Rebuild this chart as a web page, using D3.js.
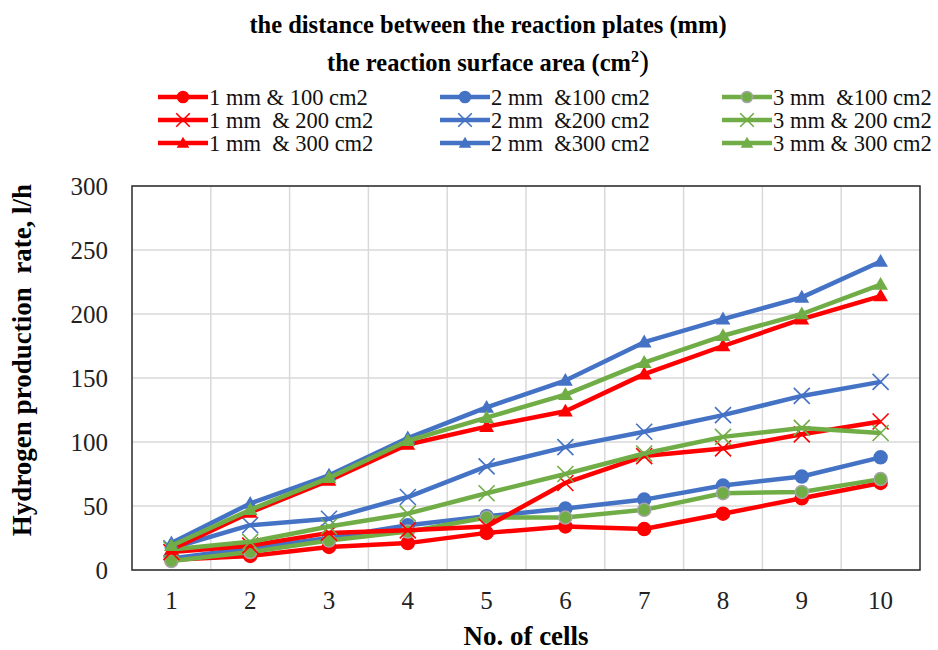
<!DOCTYPE html>
<html>
<head>
<meta charset="utf-8">
<script src="https://cdn.jsdelivr.net/npm/d3@7"></script>
<style>
  body { margin: 0; background: #fff; }
  svg text { font-family: "Liberation Serif", "Times New Roman", "DejaVu Serif", serif !important; white-space: pre; }
</style>
</head>
<body>
<svg id="chart"></svg>
<script>
// data
var cells = [1, 2, 3, 4, 5, 6, 7, 8, 9, 10];
var yTicks = [0, 50, 100, 150, 200, 250, 300];

var mm1_100 = [8, 11, 18, 21, 29, 34, 32, 44, 56, 68];
var mm2_100 = [9, 17, 25, 35, 42, 48, 55, 66, 73, 88];
var mm3_100 = [7, 14, 23, 30, 41, 41, 47, 60, 61, 71];
var mm1_200 = [14, 19, 29, 31, 34, 68, 89, 95, 106, 116];
var mm2_200 = [17, 35, 40, 57, 81, 96, 108, 121, 136, 147];
var mm3_200 = [16, 22, 34, 44, 60, 75, 91, 104, 111, 107];
var mm1_300 = [16, 45, 70, 98, 112, 124, 153, 175, 196, 214];
var mm2_300 = [21, 52, 74, 103, 127, 148, 178, 196, 213, 241];
var mm3_300 = [19, 47, 72, 101, 119, 137, 162, 183, 200, 223];

var red = "#ff0000", blue = "#4472c4", green = "#70ad47";
var serif = "Liberation Serif, Times New Roman, serif";

// excel draws series in legend (row-major) order
var series = [
  {name: "1 mm & 100 cm2",   values: mm1_100, color: red,   marker: "circle"},
  {name: "2 mm  &100 cm2",   values: mm2_100, color: blue,  marker: "circle"},
  {name: "3 mm  &100 cm2",   values: mm3_100, color: green, marker: "circle", outline: "#a5a5a5"},
  {name: "1 mm  & 200 cm2",  values: mm1_200, color: red,   marker: "x"},
  {name: "2 mm  &200 cm2",   values: mm2_200, color: blue,  marker: "x"},
  {name: "3 mm & 200 cm2",   values: mm3_200, color: green, marker: "x"},
  {name: "1 mm  & 300 cm2",  values: mm1_300, color: red,   marker: "triangle"},
  {name: "2 mm  &300 cm2",   values: mm2_300, color: blue,  marker: "triangle"},
  {name: "3 mm & 300 cm2",   values: mm3_300, color: green, marker: "triangle"}
];

var W = 938, H = 650;
var margin = {top: 186, right: 18, bottom: 80, left: 132},
    width = W - margin.left - margin.right,
    height = H - margin.top - margin.bottom;

var svg = d3.select("#chart").attr("width", W).attr("height", H)
  .attr("font-family", serif);

var xscale = d3.scaleBand().domain(cells).range([0, width]);
var yscale = d3.scaleLinear().domain([0, 300]).range([height, 0]);

var g = svg.append("g")
  .attr("transform", "translate(" + margin.left + "," + margin.top + ")");

// gridlines
g.selectAll(".hgrid").data(yTicks).enter().append("line")
  .attr("x1", 0).attr("x2", width)
  .attr("y1", function(d) { return yscale(d); })
  .attr("y2", function(d) { return yscale(d); })
  .attr("stroke", "#d9d9d9").attr("stroke-width", 1.5);

g.selectAll(".vgrid").data(cells.slice(1)).enter().append("line")
  .attr("x1", function(d) { return xscale(d); })
  .attr("x2", function(d) { return xscale(d); })
  .attr("y1", 0).attr("y2", height)
  .attr("stroke", "#d9d9d9").attr("stroke-width", 1.5);

// axes (labels only, frame drawn separately)
var xaxis = d3.axisBottom(xscale).tickSize(0).tickPadding(21);
var yaxis = d3.axisLeft(yscale).tickValues(yTicks).tickSize(0).tickPadding(24);

var gx = g.append("g").attr("transform", "translate(0," + height + ")").call(xaxis);
var gy = g.append("g").call(yaxis);
[gx, gy].forEach(function(a) {
  a.attr("font-family", serif).attr("font-size", 25);
  a.select(".domain").remove();
  a.selectAll("text")
    .attr("font-family", serif)
    .style("font-size", "25px")
    .attr("fill", "#222");
});

g.append("rect")
  .attr("width", width).attr("height", height)
  .attr("fill", "none").attr("stroke", "#2b2b2b").attr("stroke-width", 1.5);

var cx = function(i) { return xscale(cells[i]) + xscale.bandwidth() / 2; };

var line = d3.line()
  .x(function(d, i) { return cx(i); })
  .y(function(d) { return yscale(d); });

function drawMarker(sel, s, x, y, scale) {
  scale = scale || 1;
  if (s.marker === "circle") {
    sel.append("circle").attr("cx", x).attr("cy", y).attr("r", 6.5 * scale)
      .attr("fill", s.color)
      .attr("stroke", s.outline || s.color).attr("stroke-width", 1.5);
  } else if (s.marker === "triangle") {
    sel.append("path")
      .attr("d", d3.symbol().type(d3.symbolTriangle).size(95 * scale * scale)())
      .attr("transform", "translate(" + x + "," + (y + 1) + ")")
      .attr("fill", s.color);
  } else {
    var r = 8 * scale;
    sel.append("path")
      .attr("d", "M" + (x - r) + "," + (y - r) + "L" + (x + r) + "," + (y + r) +
                 "M" + (x - r) + "," + (y + r) + "L" + (x + r) + "," + (y - r))
      .attr("stroke", s.color).attr("stroke-width", 1.6).attr("fill", "none");
  }
}

series.forEach(function(s) {
  var sg = g.append("g");
  sg.append("path").datum(s.values)
    .attr("d", line)
    .attr("fill", "none")
    .attr("stroke", s.color)
    .attr("stroke-width", 4.5)
    .attr("stroke-linejoin", "round");
  s.values.forEach(function(v, i) { drawMarker(sg, s, cx(i), yscale(v)); });
});

// title
svg.append("text").attr("x", 488).attr("y", 33)
  .attr("text-anchor", "middle")
  .style("font-size", "24.5px").style("font-weight", "bold")
  .text("the distance between the reaction plates (mm)");

var t2 = svg.append("text").attr("x", 488).attr("y", 71)
  .attr("text-anchor", "middle")
  .style("font-size", "24.5px").style("font-weight", "bold");
t2.append("tspan").text("the reaction surface area (cm");
t2.append("tspan").attr("dy", -9).style("font-size", "16px").text("2");
t2.append("tspan").attr("dy", 9).style("font-size", "30px").style("font-weight", "normal").text(")");

// legend, column-wise by colour
var legX = [158, 440, 722], legY = [97, 120, 143];
series.forEach(function(s, i) {
  var col = i % 3, row = Math.floor(i / 3);
  var lg = svg.append("g");
  var x0 = legX[col], y0 = legY[row];
  lg.append("line").attr("x1", x0).attr("x2", x0 + 50)
    .attr("y1", y0).attr("y2", y0)
    .attr("stroke", s.color).attr("stroke-width", 4.5);
  drawMarker(lg, s, x0 + 25, y0, 0.85);
  lg.append("text").attr("x", x0 + 51).attr("y", y0 + 7.5)
    .style("font-size", "22.5px").attr("fill", "#111")
    .text(s.name);
});

// axis titles
svg.append("text")
  .attr("x", 526).attr("y", 645)
  .attr("text-anchor", "middle")
  .style("font-size", "27px").style("font-weight", "bold")
  .text("No. of cells");

svg.append("text")
  .attr("transform", "translate(31,360) rotate(-90)")
  .attr("text-anchor", "middle")
  .style("font-size", "27px").style("font-weight", "bold")
  .text("Hydrogen production  rate, l/h");
</script>
</body>
</html>
